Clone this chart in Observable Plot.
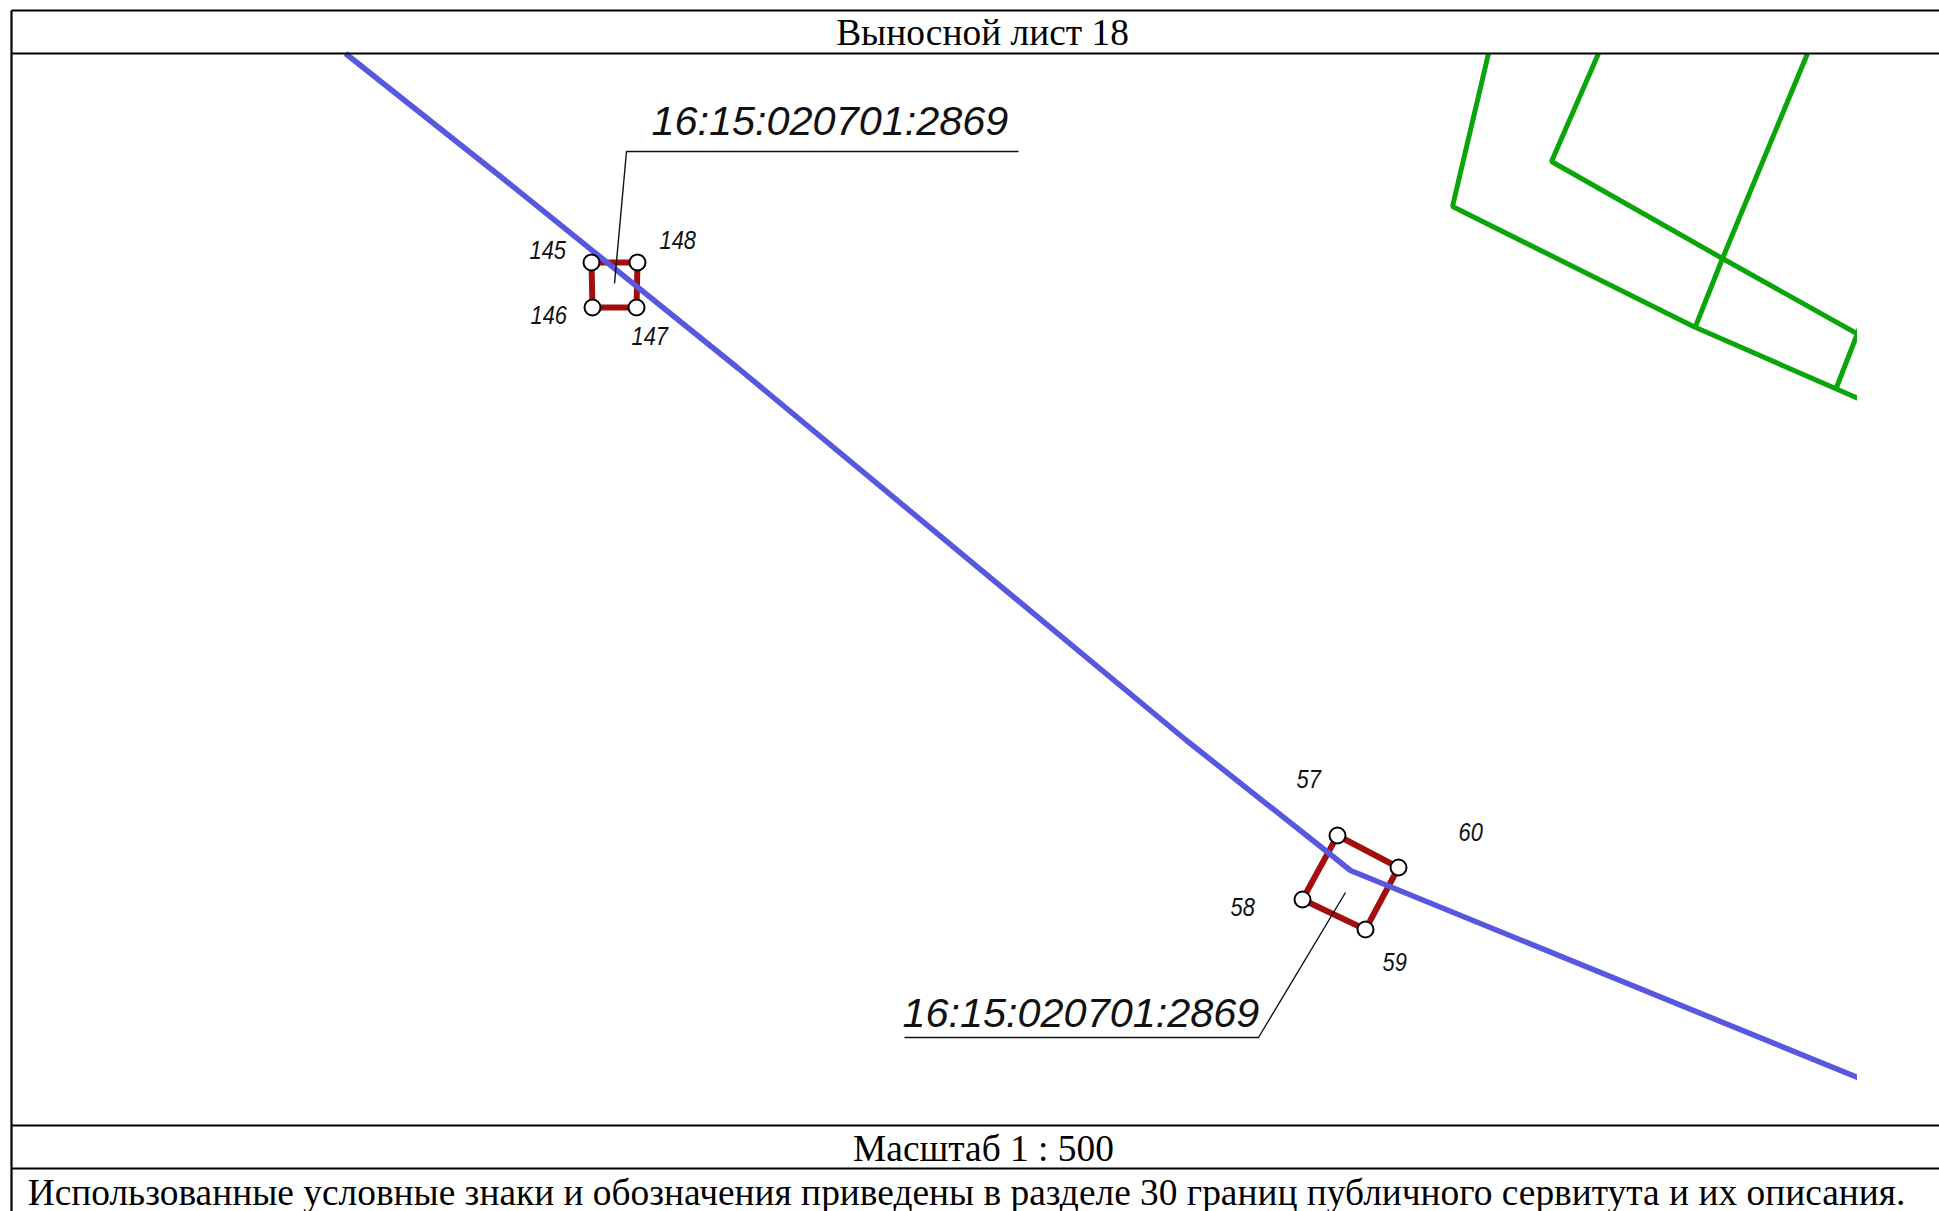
<!DOCTYPE html>
<html lang="ru">
<head>
<meta charset="utf-8">
<title>Выносной лист 18</title>
<script src="https://cdn.jsdelivr.net/npm/d3@7"></script>
<script src="https://cdn.jsdelivr.net/npm/@observablehq/plot@0.6"></script>
<style>
html,body{margin:0;padding:0;background:#fff;overflow:hidden}
svg{display:block}
</style>
</head>
<body>
<div id="chart"></div>
<script>
// Map units are sheet coordinates
const sheetWidth = 1939, sheetHeight = 1211;

const frameRules = [[11, 10, 1939, 10], [11, 53, 1939, 53], [11, 1125, 1939, 1125], [11, 1168, 1939, 1168], [11, 10, 11, 1211]];

const bluePath = [[345, 53], [500, 176], [738, 368], [1186, 740], [1325, 850], [1350, 870], [1867, 1081]];

const greenA = [[1488, 53], [1452, 206], [1693, 326], [1867, 402]];
const greenB = [[1598, 53], [1551, 161], [1722, 258], [1867, 339]];
const greenC = [[1807, 53], [1722, 258], [1695, 326]];
const greenD = [[1862, 320], [1836, 387]];

const parcelNorth = [[591, 262], [592, 307], [636, 307], [637, 262], [591, 262]];
const parcelSouth = [[1337, 835], [1302, 899], [1365, 929], [1398, 867], [1337, 835]];

const leaderNorth = [[614, 283], [626, 151], [1018, 151]];
const leaderSouth = [[1345, 892], [1258, 1037], [904, 1037]];

const parcelId = "16:15:020701:2869";
const parcelLabels = [[651, 134], [902, 1026]];

const pointNames = ["145", "146", "147", "148", "57", "58", "59", "60"];
const pointNameX = [529, 530, 631, 659, 1296, 1230, 1382, 1458];
const pointNameY = [258, 323, 344, 248, 787, 915, 970, 840];

const headerText = "Выносной лист 18";
const scaleText = "Масштаб 1 : 500";
const noteText = "Использованные условные знаки и обозначения приведены в разделе 30 границ публичного сервитута и их описания.";

const toPts = a => a.map(([x, y]) => ({x, y}));
const pointTable = pointNames.map((name, i) => ({name, x: pointNameX[i], y: pointNameY[i]}));

const green = "#0aa50a", blue = "#5757e0", red = "#a30f0f";
const lineOpts = (stroke, strokeWidth) => ({x: "x", y: "y", stroke, strokeWidth, strokeLinecap: "butt", strokeLinejoin: "miter", curve: "linear"});
const serif = {fontFamily: "Liberation Serif", fill: "#000", lineAnchor: "bottom", textAnchor: "middle"};
const sans = {fontFamily: "Liberation Sans", fontStyle: "italic", fill: "#111", lineAnchor: "bottom", textAnchor: "start"};

const chart = Plot.plot({
  width: sheetWidth,
  height: sheetHeight,
  margin: 0,
  x: {domain: [0, sheetWidth], range: [0, sheetWidth], axis: null},
  y: {domain: [0, sheetHeight], range: [0, sheetHeight], axis: null},
  style: {background: "#fff"},
  marks: [
    Plot.line(toPts(greenA), lineOpts(green, 5)),
    Plot.line(toPts(greenB), lineOpts(green, 5)),
    Plot.line(toPts(greenC), lineOpts(green, 5)),
    Plot.line(toPts(greenD), lineOpts(green, 5)),
    Plot.line(toPts(parcelNorth), lineOpts(red, 6)),
    Plot.line(toPts(parcelSouth), lineOpts(red, 6)),
    Plot.line(toPts(bluePath), lineOpts(blue, 5.5)),
    Plot.rect([{x1: 1857, x2: 1890, y1: 56, y2: 1122}], {x1: "x1", x2: "x2", y1: "y1", y2: "y2", fill: "#fff"}),
    Plot.dot(toPts(parcelNorth.slice(0, 4)).concat(toPts(parcelSouth.slice(0, 4))), {x: "x", y: "y", r: 8, fill: "#fff", stroke: "#000", strokeWidth: 2}),
    Plot.line(toPts(leaderNorth), lineOpts("#111", 1.4)),
    Plot.line(toPts(leaderSouth), lineOpts("#111", 1.4)),
    Plot.text(toPts(parcelLabels), {x: "x", y: "y", text: () => parcelId, fontSize: 41.4, ...sans}),
    Plot.text(pointTable, {x: "x", y: "y", text: "name", fontSize: 26, ...sans}),
    Plot.link(frameRules.map(([x1, y1, x2, y2]) => ({x1, y1, x2, y2})), {x1: "x1", y1: "y1", x2: "x2", y2: "y2", stroke: "#000", strokeWidth: 2.2}),
    Plot.text([{x: 982, y: 44}], {x: "x", y: "y", text: () => headerText, fontSize: 37.4, ...serif}),
    Plot.text([{x: 983, y: 1160}], {x: "x", y: "y", text: () => scaleText, fontSize: 37.4, ...serif}),
    Plot.text([{x: 966, y: 1204}], {x: "x", y: "y", text: () => noteText, fontSize: 37.4, ...serif})
  ]
});
// The point numbers in the drawing are set in a narrowed italic
chart.querySelectorAll("text").forEach(t => {
  if (pointNames.includes(t.textContent)) {
    t.setAttribute("transform", (t.getAttribute("transform") || "") + " scale(0.84,1)");
  }
});
document.getElementById("chart").append(chart);
</script>
</body>
</html>
